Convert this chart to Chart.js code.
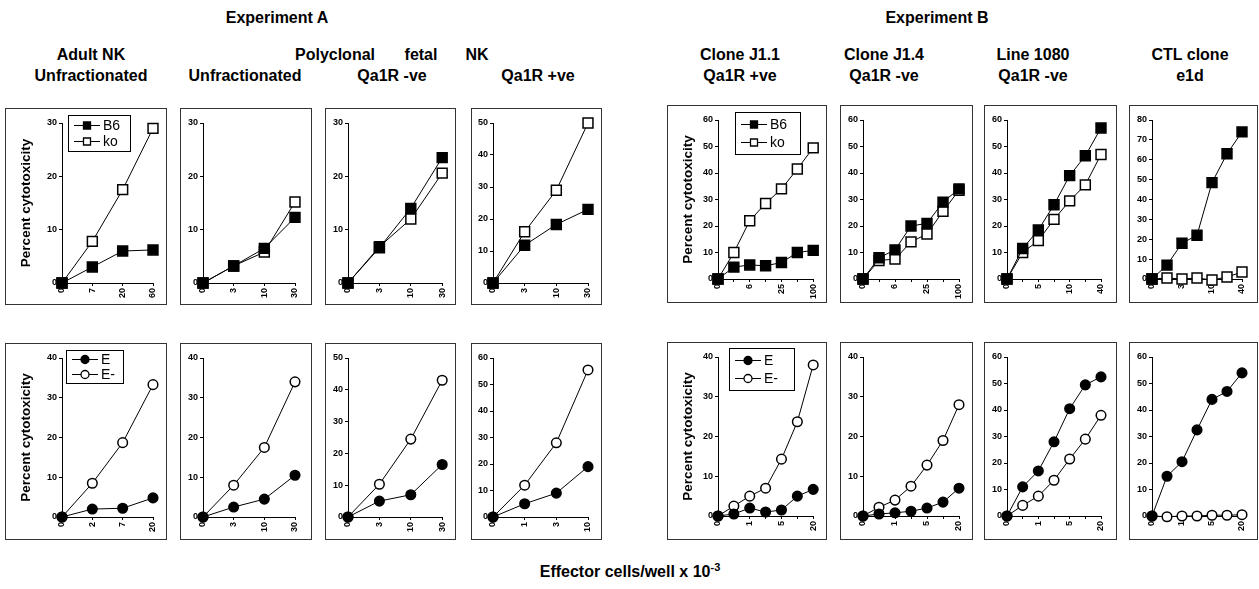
<!DOCTYPE html>
<html>
<head>
<meta charset="utf-8">
<script src="https://cdn.jsdelivr.net/npm/chart.js@4.4.1/dist/chart.umd.min.js"></script>
<style>
  body { margin:0; width:1259px; height:589px; background:#fff; position:relative; overflow:hidden;
         font-family:"Liberation Sans", Arial, sans-serif; color:#000; }
  .t { position:absolute; font-weight:bold; font-size:16px; white-space:nowrap; transform:translateX(-50%); line-height:18px; }
  .panel { position:absolute; border:1px solid #333; box-sizing:border-box; }
  .panel canvas { position:absolute; left:0; top:0; }
</style>
</head>
<body>
<div class="t" style="left:277px;top:9px">Experiment A</div>
<div class="t" style="left:937px;top:9px">Experiment B</div>

<div class="t" style="left:91px;top:46px">Adult NK</div>
<div class="t" style="left:91px;top:67px">Unfractionated</div>
<div class="t" style="left:335px;top:46px">Polyclonal</div>
<div class="t" style="left:421px;top:46px">fetal</div>
<div class="t" style="left:477px;top:46px">NK</div>
<div class="t" style="left:245px;top:67px">Unfractionated</div>
<div class="t" style="left:392px;top:67px">Qa1R -ve</div>
<div class="t" style="left:538px;top:67px">Qa1R +ve</div>

<div class="t" style="left:740px;top:46px">Clone J1.1</div>
<div class="t" style="left:740px;top:67px">Qa1R +ve</div>
<div class="t" style="left:884px;top:46px">Clone J1.4</div>
<div class="t" style="left:884px;top:67px">Qa1R -ve</div>
<div class="t" style="left:1033px;top:46px">Line 1080</div>
<div class="t" style="left:1033px;top:67px">Qa1R -ve</div>
<div class="t" style="left:1190px;top:46px">CTL clone</div>
<div class="t" style="left:1190px;top:67px">e1d</div>

<div class="t" style="left:630px;top:563px">Effector cells/well x 10<sup style="font-size:11px;vertical-align:6px;line-height:0">-3</sup></div>

<script>
// x tick labels
var xAdultTop = ['0', '7', '20', '60'];
var xFetalTop = ['0', '3', '10', '30'];
var xCloneTop = ['0', '', '6', '', '25', '', '100'];
var xLineTop = ['0', '', '5', '', '10', '', '40'];
var xCtlTop = ['0', '', '3', '', '10', '', '40'];
var xAdultBottom = ['0', '2', '7', '20'];
var xFetalBottom = ['0', '3', '10', '30'];
var xPosBottom = ['0', '1', '3', '10'];
var xCloneBottom = ['0', '', '1', '', '5', '', '20'];

// top row: B6 vs ko
var b6AdultUnf = [0, 3, 6, 6.2];
var koAdultUnf = [0, 7.8, 17.5, 29];
var b6FetalUnf = [0, 3.2, 6.5, 12.3];
var koFetalUnf = [0, 3.2, 5.8, 15.2];
var b6FetalNeg = [0, 6.6, 14, 23.5];
var koFetalNeg = [0, 6.8, 12, 20.6];
var b6FetalPos = [0, 11.8, 18.3, 23];
var koFetalPos = [0, 16, 29, 50];
var b6J11 = [0, 4.5, 5.3, 5, 6.2, 10, 10.8];
var koJ11 = [0, 10, 22, 28.5, 34, 41.5, 49.5];
var b6J14 = [0, 8, 11, 20, 21, 29, 34];
var koJ14 = [0, 7, 7.5, 14, 17, 25.5, 33.5];
var b6L1080 = [0, 11.5, 18.5, 28, 39, 46.5, 57];
var koL1080 = [0, 10, 14.5, 22.5, 29.5, 35.5, 47];
var b6Ctl = [0, 7, 18, 22, 48.5, 63, 74];
var koCtl = [0, 0.5, 0, 0.5, -0.5, 1, 3.5];

// bottom row: E vs E-
var eAdultUnf = [0, 2, 2.2, 4.8];
var enAdultUnf = [0, 8.5, 18.7, 33.3];
var eFetalUnf = [0, 2.5, 4.5, 10.5];
var enFetalUnf = [0, 8, 17.5, 34];
var eFetalNeg = [0, 5, 7, 16.5];
var enFetalNeg = [0, 10.3, 24.5, 43];
var eFetalPos = [0, 5, 9, 19];
var enFetalPos = [0, 12, 28, 55.5];
var eJ11 = [0, 0.5, 2, 1, 1.5, 5, 6.7];
var enJ11 = [0, 2.5, 5, 7, 14.3, 23.7, 38];
var eJ14 = [0, 0.5, 0.8, 1.2, 2, 3.5, 7];
var enJ14 = [0, 2.2, 4, 7.5, 12.8, 19, 28];
var eL1080 = [0, 11, 17, 28, 40.5, 49.5, 52.5];
var enL1080 = [0, 4, 7.5, 13.5, 21.5, 29, 38];
var eCtl = [0, 15, 20.5, 32.5, 44, 47, 54];
var enCtl = [0, -0.3, 0, 0, 0.3, 0.3, 0.5];

var topNames = ['B6', 'ko'];
var bottomNames = ['E', 'E-'];

// draws the boxed legend (line through marker) inside the plot
var boxLegend = {
  id: 'boxLegend',
  afterDatasetsDraw: function(chart, args, opts) {
    if (!opts || !opts.box) return;
    var ctx = chart.ctx, a = chart.chartArea;
    var x = Math.round(a.left + opts.box[0]), y = Math.round(a.top + opts.box[1]);
    var w = opts.box[2], h = opts.box[3];
    ctx.save();
    ctx.fillStyle = '#fff';
    ctx.fillRect(x, y, w, h);
    ctx.strokeStyle = '#000';
    ctx.lineWidth = 1;
    ctx.strokeRect(x + 0.5, y + 0.5, w, h);
    ctx.font = '14px "Liberation Sans", Arial, sans-serif';
    ctx.textBaseline = 'middle';
    chart.data.datasets.forEach(function(ds, i) {
      var cy = Math.round(y + h * (i === 0 ? 0.28 : 0.72)) + 0.5;
      ctx.strokeStyle = '#000';
      ctx.lineWidth = 1;
      ctx.beginPath();
      ctx.moveTo(x + 6, cy);
      ctx.lineTo(x + 32, cy);
      ctx.stroke();
      ctx.beginPath();
      if (ds.pointStyle === 'rect') ctx.rect(x + 15.5, cy - 3.5, 7, 7);
      else ctx.arc(x + 19, cy, 4, 0, Math.PI * 2);
      ctx.fillStyle = ds.pointBackgroundColor;
      ctx.fill();
      ctx.lineWidth = 1.3;
      ctx.stroke();
      ctx.fillStyle = '#000';
      ctx.fillText(ds.label, x + 35, cy + 1);
    });
    ctx.restore();
  }
};
Chart.register(boxLegend);

function series(label, data, filled, shape) {
  return {
    label: label,
    data: data,
    borderColor: '#000',
    borderWidth: 1,
    pointStyle: shape,
    pointRadius: shape === 'rect' ? 7 : 4.8,
    pointBorderWidth: 1.5,
    pointBorderColor: '#000',
    pointBackgroundColor: filled ? '#000' : '#fff',
    tension: 0,
    clip: false
  };
}

// g: box [x, y, w, h], axis x, last point x, y top px, y zero px
function panel(g, labels, names, a, b, shape, ymax, withTitle, legendBox) {
  var div = document.createElement('div');
  div.className = 'panel';
  div.style.left = g[0] + 'px';
  div.style.top = g[1] + 'px';
  div.style.width = g[2] + 'px';
  div.style.height = g[3] + 'px';
  var cv = document.createElement('canvas');
  cv.width = g[2] - 2;
  cv.height = g[3] - 2;
  div.appendChild(cv);
  document.body.appendChild(div);

  var ox = g[0] + 1, oy = g[1] + 1;
  var yw = g[4] - ox;
  var padR = (ox + cv.width) - g[5];
  var padT = g[6] - oy;
  var xh = (oy + cv.height) - g[7];
  var tickFont = { family: '"Liberation Sans", Arial, sans-serif', size: 9, weight: 'bold' };

  new Chart(cv, {
    type: 'line',
    data: {
      labels: labels,
      datasets: [series(names[0], a, true, shape), series(names[1], b, false, shape)]
    },
    options: {
      responsive: false,
      animation: false,
      layout: { padding: { left: 0, right: padR, top: padT, bottom: 0 } },
      plugins: {
        legend: { display: false },
        tooltip: { enabled: false },
        boxLegend: legendBox ? { box: legendBox } : false
      },
      scales: {
        x: {
          offset: false,
          grid: { display: true, drawOnChartArea: false, drawTicks: true, tickLength: 3, color: '#000' },
          border: { display: true, color: '#000', width: 1 },
          ticks: { autoSkip: false, minRotation: 90, maxRotation: 90, padding: 2, color: '#000', font: tickFont },
          afterFit: function(s) { s.height = xh; }
        },
        y: {
          min: 0,
          max: ymax,
          grid: { display: true, drawOnChartArea: false, drawTicks: true, tickLength: 3, color: '#000' },
          border: { display: true, color: '#000', width: 1 },
          ticks: { stepSize: 10, padding: 2, color: '#000', font: tickFont },
          title: {
            display: withTitle,
            text: 'Percent cytotoxicity',
            color: '#000',
            padding: { top: 12, bottom: 0 },
            font: { family: '"Liberation Sans", Arial, sans-serif', size: 13.5, weight: 'bold' }
          },
          afterFit: function(s) { s.width = yw; }
        }
      }
    }
  });
}

// top row
panel([5, 108, 162, 197, 62, 153, 123, 283], xAdultTop, topNames, b6AdultUnf, koAdultUnf, 'rect', 30, true, [6, -8, 62, 36]);
panel([180, 108, 132, 197, 203, 295, 123, 283], xFetalTop, topNames, b6FetalUnf, koFetalUnf, 'rect', 30, false, null);
panel([325, 108, 131, 197, 348, 443, 123, 283], xFetalTop, topNames, b6FetalNeg, koFetalNeg, 'rect', 30, false, null);
panel([471, 108, 131, 197, 493, 588, 123, 283], xFetalTop, topNames, b6FetalPos, koFetalPos, 'rect', 50, false, null);
panel([667, 105, 160, 198, 718, 814, 120, 279], xCloneTop, topNames, b6J11, koJ11, 'rect', 60, true, [17, -8, 65, 42]);
panel([840, 105, 133, 198, 863, 959, 120, 279], xCloneTop, topNames, b6J14, koJ14, 'rect', 60, false, null);
panel([984, 105, 133, 198, 1007, 1101, 120, 279], xLineTop, topNames, b6L1080, koL1080, 'rect', 60, false, null);
panel([1129, 105, 129, 198, 1152, 1242, 120, 279], xCtlTop, topNames, b6Ctl, koCtl, 'rect', 80, false, null);

// bottom row
panel([5, 343, 162, 197, 62, 153, 358, 517], xAdultBottom, bottomNames, eAdultUnf, enAdultUnf, 'circle', 40, true, [4, -8, 57, 33]);
panel([180, 343, 132, 197, 203, 295, 358, 517], xFetalBottom, bottomNames, eFetalUnf, enFetalUnf, 'circle', 40, false, null);
panel([325, 343, 131, 197, 348, 443, 358, 517], xFetalBottom, bottomNames, eFetalNeg, enFetalNeg, 'circle', 50, false, null);
panel([471, 343, 131, 197, 493, 588, 358, 517], xPosBottom, bottomNames, eFetalPos, enFetalPos, 'circle', 60, false, null);
panel([667, 342, 160, 198, 718, 814, 357, 516], xCloneBottom, bottomNames, eJ11, enJ11, 'circle', 40, true, [11, -9, 65, 42]);
panel([840, 342, 133, 198, 863, 959, 357, 516], xCloneBottom, bottomNames, eJ14, enJ14, 'circle', 40, false, null);
panel([984, 342, 133, 198, 1007, 1101, 357, 516], xCloneBottom, bottomNames, eL1080, enL1080, 'circle', 60, false, null);
panel([1129, 342, 129, 198, 1152, 1242, 357, 516], xCloneBottom, bottomNames, eCtl, enCtl, 'circle', 60, false, null);
</script>
</body>
</html>
